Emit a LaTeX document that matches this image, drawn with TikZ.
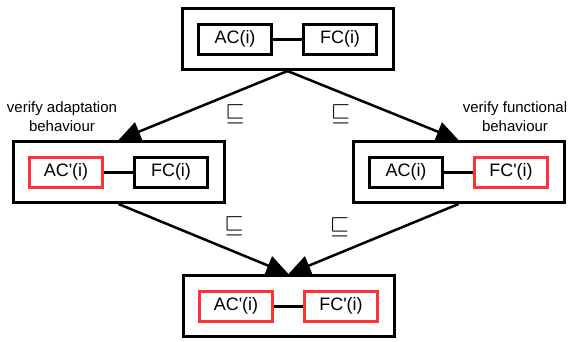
\documentclass[tikz,border=0pt]{standalone}
\usepackage{amssymb}
\usepackage{fontspec}
\setmainfont{Liberation Sans}
\usetikzlibrary{arrows.meta, positioning, fit}

\definecolor{changed}{HTML}{FF3333}
\newcommand{\prm}{\textquotesingle}

\begin{document}
\begin{tikzpicture}[x=1pt, y=1pt, node distance=105pt,
    comp/.style={draw, line width=3pt, minimum width=73pt, minimum height=30pt, inner sep=0pt, font=\fontsize{18}{20}\selectfont},
    newcomp/.style={comp, draw=changed},
    config/.style={draw, line width=3pt, inner xsep=15pt, inner ysep=14pt},
    link/.style={line width=3pt},
    flow/.style={line width=2.5pt, arrows={-Triangle[length=22pt, width=20pt]}},
    rel/.style={font=\fontsize{30}{32}\selectfont},
    note/.style={align=center, font=\fontsize{15}{19}\selectfont}]
    \useasboundingbox (0,0) rectangle (568,-341);

    % Nodes
    \node[comp] (orig ac) at (235,-39) {AC(i)};
    \node[comp, right of=orig ac] (orig fc) {FC(i)};
    \node[config, fit=(orig ac) (orig fc)] (orig) {};

    \node[newcomp] (adapt ac) at (66,-172) {AC\prm(i)};
    \node[comp, right of=adapt ac] (adapt fc) {FC(i)};
    \node[config, fit=(adapt ac) (adapt fc)] (adapt) {};

    \node[comp] (func ac) at (406,-172) {AC(i)};
    \node[newcomp, right of=func ac] (func fc) {FC\prm(i)};
    \node[config, fit=(func ac) (func fc)] (func) {};

    \node[newcomp] (final ac) at (236,-306) {AC\prm(i)};
    \node[newcomp, right of=final ac] (final fc) {FC\prm(i)};
    \node[config, fit=(final ac) (final fc)] (final) {};

    \node[note] (adapt note) at (62,-117) {verify adaptation\\behaviour};
    \node[note] (func note) at (515,-117) {verify functional\\behaviour};

    % Connections
    \draw[link] (orig ac) -- (orig fc);
    \draw[link] (adapt ac) -- (adapt fc);
    \draw[link] (func ac) -- (func fc);
    \draw[link] (final ac) -- (final fc);

    \draw[flow] (orig.south) -- node[rel, pos=.31, yshift=-22pt] (rel adapt) {$\sqsubseteq$} (adapt.north);
    \draw[flow] (orig.south) -- node[rel, pos=.31, yshift=-22pt] (rel func) {$\sqsubseteq$} (func.north);
    \draw[flow] (adapt.south) -- node[rel, pos=.68, yshift=25pt] (rel final a) {$\sqsubseteq$} (final.north);
    \draw[flow] (func.south) -- node[rel, pos=.70, yshift=26pt] (rel final f) {$\sqsubseteq$} (final.north);
\end{tikzpicture}
\end{document}
